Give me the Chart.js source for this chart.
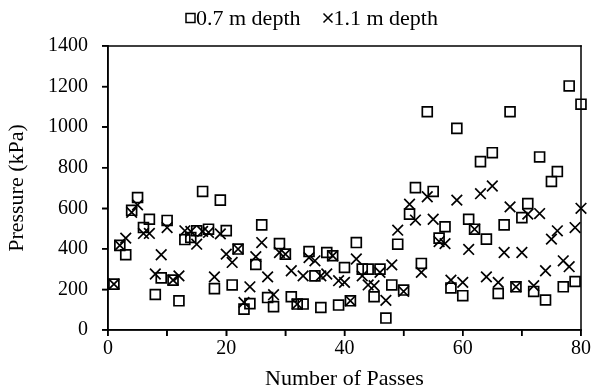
<!DOCTYPE html>
<html>
<head>
<meta charset="utf-8">
<script src="https://cdn.jsdelivr.net/npm/chart.js@4.4.1/dist/chart.umd.min.js"></script>
<style>
  html, body { margin: 0; padding: 0; background: #fff; }
  #wrap { width: 594px; height: 390px; position: relative; }
</style>
</head>
<body>
<div id="wrap"><canvas id="graficoPressao"></canvas></div>
<script>
// valores
var passes = [1, 2, 3, 4, 5, 6, 7, 8, 9, 10,
  11, 12, 13, 14, 15, 16, 17, 18, 19, 20,
  21, 22, 23, 24, 25, 26, 27, 28, 29, 30,
  31, 32, 33, 34, 35, 36, 37, 38, 39, 40,
  41, 42, 43, 44, 45, 46, 47, 48, 49, 50,
  51, 52, 53, 54, 55, 56, 57, 58, 59, 60,
  61, 62, 63, 64, 65, 66, 67, 68, 69, 70,
  71, 72, 73, 74, 75, 76, 77, 78, 79, 80];

var pressao07 = [226, 417, 371, 590, 653, 505, 546, 175, 257, 540,
  246, 144, 446, 456, 489, 683, 497, 204, 640, 490,
  222, 399, 103, 130, 323, 518, 160, 115, 426, 374,
  164, 128, 128, 387, 267, 111, 382, 366, 123, 308,
  144, 431, 300, 300, 164, 300, 59, 222, 423, 197,
  571, 702, 328, 1076, 683, 453, 509, 207, 994, 169,
  546, 497, 830, 448, 874, 180, 518, 1076, 213, 554,
  623, 190, 853, 148, 732, 781, 213, 1203, 239, 1113];

var pressao11 = [226, 417, 453, 580, 617, 476, 476, 276, 371, 505,
  246, 267, 489, 486, 423, 486, 481, 262, 474, 374,
  333, 399, 136, 213, 361, 431, 262, 174, 382, 374,
  292, 128, 267, 357, 341, 267, 276, 366, 243, 235,
  144, 350, 267, 222, 218, 284, 146, 321, 492, 190,
  620, 542, 284, 657, 546, 436, 426, 246, 640, 235,
  397, 497, 672, 262, 710, 235, 382, 607, 213, 382,
  571, 218, 574, 292, 448, 489, 341, 312, 505, 600];

var legendas = ['0.7 m depth', '1.1 m depth'];
var rotulosX = [0, 20, 40, 60, 80];

var fonteSerif = '"Liberation Serif", "Times New Roman", serif';

function montaPontos(xs, ys) {
  var pts = [];
  for (var i = 0; i < xs.length; i++) {
    pts.push({ x: xs[i], y: ys[i] });
  }
  return pts;
}

// moldura e marcas dos eixos, feitas com retangulos cheios
var moldura = {
  id: 'moldura',
  afterDraw: function (grafico) {
    var a = grafico.chartArea;
    var c = grafico.ctx;
    var lw = 1.5;
    var eixoX = grafico.scales.x;
    var eixoY = grafico.scales.y;
    c.save();
    c.fillStyle = '#000';
    c.fillRect(a.left - lw / 2, a.top - lw / 2, a.right - a.left + lw, lw);
    c.fillRect(a.left - lw / 2, a.bottom - lw / 2, a.right - a.left + lw, lw);
    c.fillRect(a.left - lw / 2, a.top - lw / 2, lw, a.bottom - a.top + lw);
    c.fillRect(a.right - lw / 2, a.top - lw / 2, lw, a.bottom - a.top + lw);
    eixoX.ticks.forEach(function (t) {
      var px = eixoX.getPixelForValue(t.value);
      c.fillRect(px - lw / 2, a.bottom, lw, 6);
    });
    eixoY.ticks.forEach(function (t) {
      var py = eixoY.getPixelForValue(t.value);
      c.fillRect(a.left - 6, py - lw / 2, 6, lw);
    });
    c.restore();
  }
};

// legenda no topo, marcador colado no texto como no original
var legendaTopo = {
  id: 'legendaTopo',
  afterDraw: function (grafico) {
    var c = grafico.ctx;
    var y = 18;
    var x = 186;
    c.save();
    c.font = '22px ' + fonteSerif;
    c.fillStyle = '#000';
    c.strokeStyle = '#000';
    c.lineWidth = 1.5;
    c.textBaseline = 'middle';
    c.textAlign = 'left';
    for (var i = 0; i < legendas.length; i++) {
      var estilo = grafico.data.datasets[i].pointStyle;
      c.beginPath();
      if (estilo === 'rect') {
        c.rect(x, y - 4.5, 9, 9);
      } else {
        c.moveTo(x, y - 4.5); c.lineTo(x + 9, y + 4.5);
        c.moveTo(x + 9, y - 4.5); c.lineTo(x, y + 4.5);
      }
      c.stroke();
      c.fillText(legendas[i], x + 10, y + 1);
      x += 10 + c.measureText(legendas[i]).width + 23;
    }
    c.restore();
  }
};

function montaGraficoPressao(divID) {
  var contexto = document.getElementById(divID).getContext('2d');
  return new Chart(contexto, {
    type: 'scatter',
    data: {
      datasets: [
        {
          label: legendas[0],
          data: montaPontos(passes, pressao07),
          pointStyle: 'rect',
          pointRadius: 7,
          pointBorderWidth: 1.7,
          borderColor: '#000',
          backgroundColor: 'rgba(0,0,0,0)',
          clip: false
        },
        {
          label: legendas[1],
          data: montaPontos(passes, pressao11),
          pointStyle: 'crossRot',
          pointRadius: 7.5,
          pointBorderWidth: 1.7,
          borderColor: '#000',
          backgroundColor: 'rgba(0,0,0,0)',
          clip: false
        }
      ]
    },
    options: {
      responsive: true,
      maintainAspectRatio: false,
      animation: false,
      layout: { padding: { left: 0, right: 0, top: 46, bottom: 0 } },
      plugins: {
        legend: { display: false },
        tooltip: { enabled: false }
      },
      scales: {
        x: {
          type: 'linear',
          min: 0,
          max: 80,
          ticks: {
            stepSize: 10,
            padding: 3,
            color: '#000',
            font: { family: fonteSerif, size: 20, lineHeight: 1 },
            callback: function (v) {
              return rotulosX.indexOf(v) >= 0 ? String(v) : '';
            }
          },
          grid: { drawOnChartArea: false, drawTicks: true, tickLength: 6, color: '#000', lineWidth: 1.5 },
          border: { display: true, color: '#000', width: 1.5 },
          title: {
            display: true,
            text: 'Number of Passes',
            color: '#000',
            font: { family: fonteSerif, size: 22, lineHeight: 1 },
            padding: { top: 6, bottom: 0 }
          }
        },
        y: {
          min: 0,
          max: 1400,
          ticks: {
            stepSize: 200,
            padding: 14,
            color: '#000',
            font: { family: fonteSerif, size: 20, lineHeight: 1 },
            callback: function (v) { return String(v); }
          },
          grid: { drawOnChartArea: false, drawTicks: true, tickLength: 6, color: '#000', lineWidth: 1.5 },
          border: { display: true, color: '#000', width: 1.5 },
          title: {
            display: true,
            text: 'Pressure (kPa)',
            color: '#000',
            font: { family: fonteSerif, size: 22, lineHeight: 1 },
            padding: { top: 6, bottom: 6 }
          }
        }
      }
    },
    plugins: [moldura, legendaTopo]
  });
}

montaGraficoPressao('graficoPressao');
</script>
</body>
</html>
